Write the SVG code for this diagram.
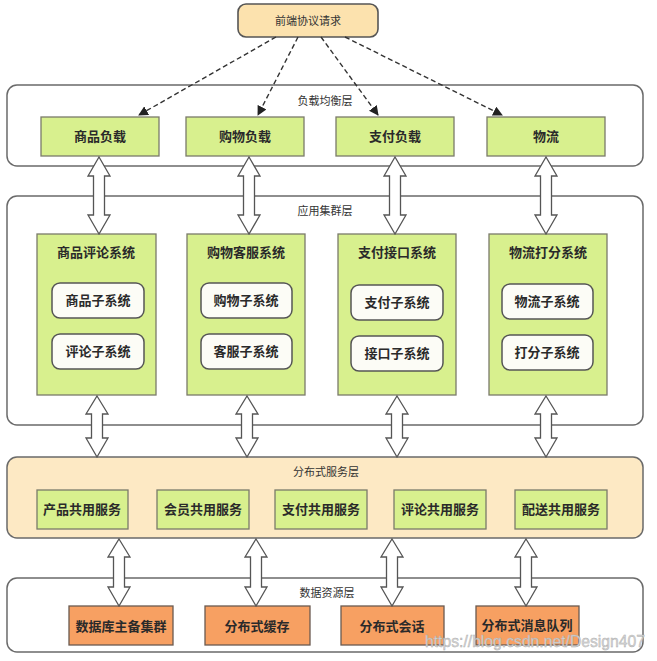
<svg xmlns="http://www.w3.org/2000/svg" width="657" height="661" viewBox="0 0 657 661">
<defs>
<style>
.layer{fill:#ffffff;stroke:#6a6a6a;stroke-width:1.5}
.svc-layer{fill:#fde9c4;stroke:#6a6a6a;stroke-width:1.5}
.green{fill:#d8f08e;stroke:#7a7a6a;stroke-width:1.3}
.sub{fill:#fcfcf6;stroke:#555;stroke-width:1.5}
.orange{fill:#f7a062;stroke:#6a5a50;stroke-width:1.3}
.top{fill:#fce2ae;stroke:#555;stroke-width:1.6}
text{font-family:"Noto Sans CJK SC","Noto Sans",sans-serif;text-anchor:middle;fill:#333}
.lbl{font-size:11px}
.nd{font-size:13px;font-weight:bold;fill:#2a2a2a}
.dash{fill:none;stroke:#333;stroke-width:1.4;stroke-dasharray:5,3}
.dbl{fill:#ffffff;stroke:#555;stroke-width:1.3}
.wm{font-family:"Liberation Sans",Arial,sans-serif;font-size:16px;fill:#d6d6d6;stroke:#aaa;stroke-width:0.4;text-anchor:start}
</style>
<marker id="ah" viewBox="0 0 10 10" refX="9" refY="5" markerWidth="7" markerHeight="7" orient="auto">
<path d="M0,0 L10,5 L0,10 z" fill="#222"/>
</marker>
</defs>

<g id="layer-lb">
<rect class="layer" x="7" y="85" width="636" height="81" rx="10"/>
<text class="lbl" x="325" y="105">负载均衡层</text>
</g>
<g id="layer-app">
<rect class="layer" x="7" y="196" width="636" height="229" rx="10"/>
<text class="lbl" x="325" y="215">应用集群层</text>
</g>
<g id="layer-svc">
<rect class="svc-layer" x="7" y="457" width="636" height="81" rx="10"/>
<text class="lbl" x="326" y="476">分布式服务层</text>
</g>
<g id="layer-data">
<rect class="layer" x="7" y="578" width="636" height="74" rx="10"/>
<text class="lbl" x="327" y="597">数据资源层</text>
</g>

<g id="top-request">
<rect class="top" x="238" y="4" width="140" height="33" rx="8"/>
<text class="lbl" x="308" y="25">前端协议请求</text>
</g>

<g id="lb-goods"><rect class="green" x="41" y="117" width="118" height="39"/><text class="nd" x="100" y="141">商品负载</text></g>
<g id="lb-shop"><rect class="green" x="186" y="117" width="118" height="39"/><text class="nd" x="245" y="141">购物负载</text></g>
<g id="lb-pay"><rect class="green" x="336" y="117" width="118" height="39"/><text class="nd" x="395" y="141">支付负载</text></g>
<g id="lb-logistics"><rect class="green" x="487" y="117" width="118" height="39"/><text class="nd" x="546" y="141">物流</text></g>

<g id="sys-review">
<rect class="green" x="37" y="234" width="119" height="161"/>
<text class="nd" x="96" y="257">商品评论系统</text>
<rect class="sub" x="52" y="283" width="92" height="35" rx="8"/><text class="nd" x="98" y="305">商品子系统</text>
<rect class="sub" x="52" y="334" width="92" height="35" rx="8"/><text class="nd" x="98" y="356">评论子系统</text>
</g>
<g id="sys-shop">
<rect class="green" x="187" y="234" width="118" height="161"/>
<text class="nd" x="246" y="257">购物客服系统</text>
<rect class="sub" x="201" y="283" width="91" height="35" rx="8"/><text class="nd" x="246" y="305">购物子系统</text>
<rect class="sub" x="201" y="334" width="91" height="35" rx="8"/><text class="nd" x="246" y="356">客服子系统</text>
</g>
<g id="sys-pay">
<rect class="green" x="338" y="234" width="118" height="161"/>
<text class="nd" x="397" y="257">支付接口系统</text>
<rect class="sub" x="351" y="285" width="92" height="35" rx="8"/><text class="nd" x="397" y="307">支付子系统</text>
<rect class="sub" x="351" y="336" width="92" height="35" rx="8"/><text class="nd" x="397" y="358">接口子系统</text>
</g>
<g id="sys-logistics">
<rect class="green" x="489" y="234" width="118" height="161"/>
<text class="nd" x="548" y="257">物流打分系统</text>
<rect class="sub" x="502" y="284" width="91" height="35" rx="8"/><text class="nd" x="547" y="306">物流子系统</text>
<rect class="sub" x="502" y="335" width="91" height="35" rx="8"/><text class="nd" x="547" y="357">打分子系统</text>
</g>

<g id="svc-product"><rect class="green" x="37" y="490" width="91" height="39"/><text class="nd" x="82" y="514">产品共用服务</text></g>
<g id="svc-member"><rect class="green" x="157" y="490" width="92" height="39"/><text class="nd" x="203" y="514">会员共用服务</text></g>
<g id="svc-pay"><rect class="green" x="275" y="490" width="92" height="39"/><text class="nd" x="321" y="514">支付共用服务</text></g>
<g id="svc-review"><rect class="green" x="394" y="490" width="92" height="39"/><text class="nd" x="440" y="514">评论共用服务</text></g>
<g id="svc-delivery"><rect class="green" x="515" y="490" width="92" height="39"/><text class="nd" x="561" y="514">配送共用服务</text></g>

<g id="db-cluster"><rect class="orange" x="69" y="606" width="104" height="39"/><text class="nd" x="121" y="631">数据库主备集群</text></g>
<g id="dist-cache"><rect class="orange" x="205" y="606" width="105" height="39"/><text class="nd" x="257" y="631">分布式缓存</text></g>
<g id="dist-session"><rect class="orange" x="341" y="606" width="103" height="39"/><text class="nd" x="392" y="631">分布式会话</text></g>
<g id="dist-mq"><rect class="orange" x="476" y="606" width="103" height="39"/><text class="nd" x="527" y="630">分布式消息队列</text></g>

<g id="connectors">
<path class="dash" d="M276,37 L139,115" marker-end="url(#ah)"/>
<path class="dash" d="M298,37 L258,115" marker-end="url(#ah)"/>
<path class="dash" d="M321,37 L378,115" marker-end="url(#ah)"/>
<path class="dash" d="M345,37 L502,115" marker-end="url(#ah)"/>

<path class="dbl" d="M99,157 L110,176 L104.5,176 L104.5,215 L110,215 L99,234 L88,215 L93.5,215 L93.5,176 L88,176 Z"/>
<path class="dbl" d="M249,157 L260,176 L254.5,176 L254.5,215 L260,215 L249,234 L238,215 L243.5,215 L243.5,176 L238,176 Z"/>
<path class="dbl" d="M395,157 L406,176 L400.5,176 L400.5,215 L406,215 L395,234 L384,215 L389.5,215 L389.5,176 L384,176 Z"/>
<path class="dbl" d="M546,157 L557,176 L551.5,176 L551.5,215 L557,215 L546,234 L535,215 L540.5,215 L540.5,176 L535,176 Z"/>

<path class="dbl" d="M97,396 L108,414 L102.5,414 L102.5,438 L108,438 L97,457 L86,438 L91.5,438 L91.5,414 L86,414 Z"/>
<path class="dbl" d="M247,396 L258,414 L252.5,414 L252.5,438 L258,438 L247,457 L236,438 L241.5,438 L241.5,414 L236,414 Z"/>
<path class="dbl" d="M397,396 L408,414 L402.5,414 L402.5,438 L408,438 L397,457 L386,438 L391.5,438 L391.5,414 L386,414 Z"/>
<path class="dbl" d="M546,396 L557,414 L551.5,414 L551.5,438 L557,438 L546,457 L535,438 L540.5,438 L540.5,414 L535,414 Z"/>

<path class="dbl" d="M119,539 L130,557 L124.5,557 L124.5,587 L130,587 L119,606 L108,587 L113.5,587 L113.5,557 L108,557 Z"/>
<path class="dbl" d="M256,539 L267,557 L261.5,557 L261.5,587 L267,587 L256,606 L245,587 L250.5,587 L250.5,557 L245,557 Z"/>
<path class="dbl" d="M392,539 L403,557 L397.5,557 L397.5,587 L403,587 L392,606 L381,587 L386.5,587 L386.5,557 L381,557 Z"/>
<path class="dbl" d="M526,539 L537,557 L531.5,557 L531.5,587 L537,587 L526,606 L515,587 L520.5,587 L520.5,557 L515,557 Z"/>
</g>

<text class="wm" x="425" y="647" textLength="220" lengthAdjust="spacingAndGlyphs">https://blog.csdn.net/Design407</text>
</svg>
